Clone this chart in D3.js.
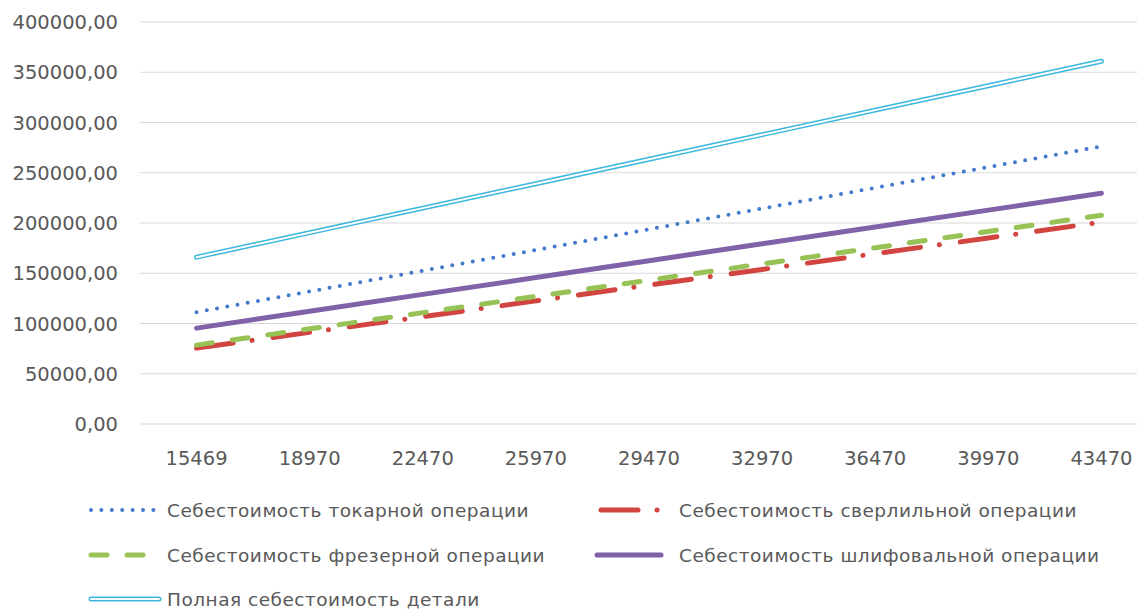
<!DOCTYPE html>
<html>
<head>
<meta charset="utf-8">
<script src="https://cdn.jsdelivr.net/npm/d3@7"></script>
<style>
  body { margin: 0; background: #fff; }
  text { font-family: "DejaVu Sans", sans-serif; fill: #595959; }
</style>
</head>
<body>
<svg id="chart" width="1137" height="610"></svg>
<script>
// categories (x axis) and series values
const categories = ["15469", "18970", "22470", "25970", "29470", "32970", "36470", "39970", "43470"];
const tokar  = [111300, 131900, 152500, 173100, 193800, 214400, 235000, 255600, 276300];
const sverl  = [75500, 91200, 106800, 122500, 138200, 153800, 169500, 185100, 200800];
const frez   = [78500, 94700, 110800, 127000, 143100, 159300, 175400, 191600, 207700];
const shlif  = [95400, 112200, 129000, 145700, 162500, 179300, 196000, 212800, 229600];
const full   = [166000, 190400, 214800, 239100, 263500, 287900, 312300, 336600, 361000];
const yTicks = [0, 50000, 100000, 150000, 200000, 250000, 300000, 350000, 400000];
const names = [
  "Себестоимость токарной операции",
  "Себестоимость сверлильной операции",
  "Себестоимость фрезерной операции",
  "Себестоимость шлифовальной операции",
  "Полная себестоимость детали"
];

const margin = { top: 22, left: 140, right: -21, bottom: 186 },
  width = 1137 - margin.left - margin.right,
  height = 610 - margin.top - margin.bottom;

var svg = d3.select("#chart");
var g = svg.append("g").attr("transform", `translate(${margin.left},${margin.top})`);

const x = d3.scaleBand().domain(categories).range([0, width]);
const y = d3.scaleLinear().domain([0, 400000]).range([height, 0]);

// gridlines
g.selectAll(".grid")
  .data(yTicks)
  .join("line")
  .attr("x1", 0).attr("x2", width)
  .attr("y1", d => y(d)).attr("y2", d => y(d))
  .attr("stroke", "#d9d9d9")
  .attr("stroke-width", 1);

// y labels
g.selectAll(".ylab")
  .data(yTicks)
  .join("text")
  .attr("x", -22)
  .attr("y", d => y(d))
  .attr("dy", "0.36em")
  .attr("text-anchor", "end")
  .style("font-size", "19.5px")
  .text(d => d3.format(".2f")(d).replace(".", ","));

// x labels
g.selectAll(".xlab")
  .data(categories)
  .join("text")
  .attr("x", d => x(d) + x.bandwidth() / 2)
  .attr("y", height + 41)
  .attr("text-anchor", "middle")
  .style("font-size", "19.5px")
  .text(d => d);

const line = d3.line()
  .x((d, i) => x(categories[i]) + x.bandwidth() / 2)
  .y(d => y(d));

// series styles
const styles = [
  { data: tokar, color: "#4479cc", width: 4, dash: "0 10.4" },
  { data: sverl, color: "#d24440", width: 5, dash: "37 19 0.1 21" },
  { data: frez, color: "#97c255", width: 5, dash: "16 20" },
  { data: shlif, color: "#8062a8", width: 5, dash: null },
  { data: full, color: "#3bb7dd", width: 5, dash: null, double: true }
];

function drawLine(sel, s) {
  sel.append("path")
    .attr("fill", "none")
    .attr("stroke", s.color)
    .attr("stroke-width", s.width)
    .attr("stroke-linecap", "round")
    .attr("stroke-dasharray", s.dash);
  if (s.double) {
    sel.append("path")
      .attr("fill", "none")
      .attr("stroke", "#fff")
      .attr("stroke-width", 2)
      .attr("stroke-linecap", "round");
  }
}

// draw full first, then the rest
[4, 0, 1, 2, 3].forEach(i => {
  const s = styles[i];
  const sg = g.append("g");
  drawLine(sg, s);
  sg.selectAll("path").attr("d", line(s.data));
});

// legend
const legendPos = [
  { x: 91, y: 510 }, { x: 601, y: 510 },
  { x: 91, y: 555 }, { x: 597, y: 555 },
  { x: 91, y: 599 }
];
const legendLen = [64, 58, 56, 64, 68];
const legendText = [167, 679, 167, 679, 167];

names.forEach((n, i) => {
  const s = styles[i];
  const p = legendPos[i];
  const lg = svg.append("g");
  drawLine(lg, s);
  lg.selectAll("path").attr("d", `M${p.x},${p.y}H${p.x + legendLen[i]}`);
  lg.append("text")
    .attr("x", legendText[i])
    .attr("y", p.y)
    .attr("dy", "0.36em")
    .style("font-size", "18.5px")
    .style("letter-spacing", "0.5px")
    .text(n);
});
</script>
</body>
</html>
